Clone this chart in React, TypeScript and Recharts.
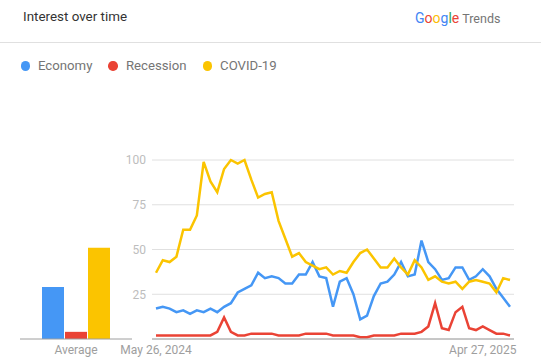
import { BarChart, Bar, LineChart, Line, XAxis, YAxis, CartesianGrid } from "recharts"

const weeks = [
  "May 26, 2024", "Jun 2, 2024", "Jun 9, 2024", "Jun 16, 2024", "Jun 23, 2024", "Jun 30, 2024",
  "Jul 7, 2024", "Jul 14, 2024", "Jul 21, 2024", "Jul 28, 2024", "Aug 4, 2024", "Aug 11, 2024",
  "Aug 18, 2024", "Aug 25, 2024", "Sep 1, 2024", "Sep 8, 2024", "Sep 15, 2024", "Sep 22, 2024",
  "Sep 29, 2024", "Oct 6, 2024", "Oct 13, 2024", "Oct 20, 2024", "Oct 27, 2024", "Nov 3, 2024",
  "Nov 10, 2024", "Nov 17, 2024", "Nov 24, 2024", "Dec 1, 2024", "Dec 8, 2024", "Dec 15, 2024",
  "Dec 22, 2024", "Dec 29, 2024", "Jan 5, 2025", "Jan 12, 2025", "Jan 19, 2025", "Jan 26, 2025",
  "Feb 2, 2025", "Feb 9, 2025", "Feb 16, 2025", "Feb 23, 2025", "Mar 2, 2025", "Mar 9, 2025",
  "Mar 16, 2025", "Mar 23, 2025", "Mar 30, 2025", "Apr 6, 2025", "Apr 13, 2025", "Apr 20, 2025",
  "Apr 27, 2025", "May 4, 2025", "May 11, 2025", "May 18, 2025", "May 25, 2025",
]

const economy = [
  17, 18, 17, 15, 16, 14, 16, 15, 17, 15, 18, 20, 26, 28, 30, 37, 34, 35, 34, 31, 31, 36, 36, 43,
  35, 34, 18, 32, 34, 25, 11, 13, 24, 31, 32, 36, 43, 35, 36, 55, 43, 39, 33, 34, 40, 40, 33, 35,
  39, 35, 28, 23, 18,
]

const recession = [
  2, 2, 2, 2, 2, 2, 2, 2, 2, 4, 12, 4, 2, 2, 3, 3, 3, 3, 2, 2, 2, 2, 3, 3,
  3, 3, 2, 2, 2, 2, 1, 1, 2, 2, 2, 2, 3, 3, 3, 4, 7, 20, 6, 5, 15, 18, 6, 5,
  7, 5, 3, 3, 2,
]

const covid = [
  37, 44, 43, 46, 61, 61, 69, 99, 88, 82, 95, 100, 98, 100, 89, 79, 81, 82, 66, 56, 46, 48, 43, 41,
  39, 40, 36, 38, 37, 43, 48, 50, 45, 40, 40, 45, 40, 36, 44, 40, 33, 35, 32, 31, 32, 28, 32, 33,
  32, 31, 26, 34, 33,
]

const seriesKeys = ["economy", "recession", "covid"]
const seriesNames = ["Economy", "Recession", "COVID-19"]
const seriesColors = ["#4597f5", "#ea4335", "#fbc400"]
const averages = [29, 4, 51]
const yTicks = [25, 50, 75, 100]
const xTicks = ["May 26, 2024", "Apr 27, 2025"]

const lineData = weeks.map((week, i) => ({
  week,
  economy: economy[i],
  recession: recession[i],
  covid: covid[i],
}))

const avgData = [
  { name: "Average", economy: averages[0], recession: averages[1], covid: averages[2] },
]

const font = "Roboto, Arial, sans-serif"
const googleLetters = [
  ["G", "#4285f4"], ["o", "#ea4335"], ["o", "#fbbc05"], ["g", "#4285f4"], ["l", "#34a853"], ["e", "#ea4335"],
]

export default function App() {
  return (
    <div
      style={{
        position: "absolute",
        left: 0,
        top: 0,
        width: 541,
        height: 363,
        background: "#fff",
        fontFamily: font,
        overflow: "hidden",
      }}
    >
      <div style={{ position: "absolute", left: 23, top: 9, fontSize: 13.4, lineHeight: "16px", color: "#333" }}>
        Interest over time
      </div>
      <div style={{ position: "absolute", left: 415, top: 9.5, lineHeight: "16px", whiteSpace: "nowrap" }}>
        {googleLetters.map(([ch, c], i) => (
          <span key={i} style={{ color: c, fontSize: 14 }}>{ch}</span>
        ))}
        <span style={{ color: "#757575", fontSize: 12.5, marginLeft: 3 }}>Trends</span>
      </div>
      <div style={{ position: "absolute", left: 0, top: 42, width: 541, height: 1, background: "#e0e0e0" }} />

      {/* legend */}
      <div
        style={{
          position: "absolute",
          left: 20.5,
          top: 58,
          display: "flex",
          alignItems: "center",
          lineHeight: "16px",
          fontSize: 13.2,
          color: "#757575",
        }}
      >
        {seriesNames.map((n, i) => (
          <div key={n} style={{ display: "flex", alignItems: "center", marginRight: 16 }}>
            <span style={{ width: 9.5, height: 9.5, borderRadius: "50%", background: seriesColors[i], marginRight: 8 }} />
            <span>{n}</span>
          </div>
        ))}
      </div>

      {/* averages */}
      <div style={{ position: "absolute", left: 0, top: 150 }}>
        <BarChart
          width={152}
          height={213}
          data={avgData}
          margin={{ top: 10, right: 20, bottom: 0, left: 20 }}
          barCategoryGap={22}
          barGap={1}
        >
          <XAxis
            dataKey="name"
            tickLine={false}
            axisLine={{ stroke: "#9e9e9e" }}
            tick={{ fontSize: 12, fill: "#9e9e9e", fontFamily: font }}
            tickSize={6}
            tickMargin={0}
            height={24}
          />
          <YAxis hide domain={[0, 100]} />
          {seriesKeys.map((k, i) => (
            <Bar key={k} dataKey={k} fill={seriesColors[i]} isAnimationActive={false} />
          ))}
        </BarChart>
      </div>

      {/* interest over time */}
      <div style={{ position: "absolute", left: 100, top: 150 }}>
        <LineChart width={441} height={213} data={lineData} margin={{ top: 10, right: 27, bottom: 0, left: 0 }}>
          <CartesianGrid vertical={false} stroke="#e0e0e0" />
          <XAxis
            dataKey="week"
            ticks={xTicks}
            interval={0}
            padding={{ left: 4, right: 4 }}
            tickLine={false}
            axisLine={{ stroke: "#9e9e9e" }}
            tick={{ fontSize: 12, fill: "#9e9e9e", fontFamily: font }}
            tickSize={6}
            tickMargin={0}
            height={24}
          />
          <YAxis
            domain={[0, 100]}
            ticks={yTicks}
            width={52}
            axisLine={false}
            tickLine={false}
            tickSize={6}
            tickMargin={0}
            tick={{ fontSize: 12, fill: "#bdbdbd", fontFamily: font }}
          />
          {seriesKeys.map((k, i) => (
            <Line
              key={k}
              type="linear"
              dataKey={k}
              stroke={seriesColors[i]}
              strokeWidth={2.5}
              dot={false}
              activeDot={false}
              isAnimationActive={false}
            />
          ))}
        </LineChart>
      </div>
    </div>
  )
}
